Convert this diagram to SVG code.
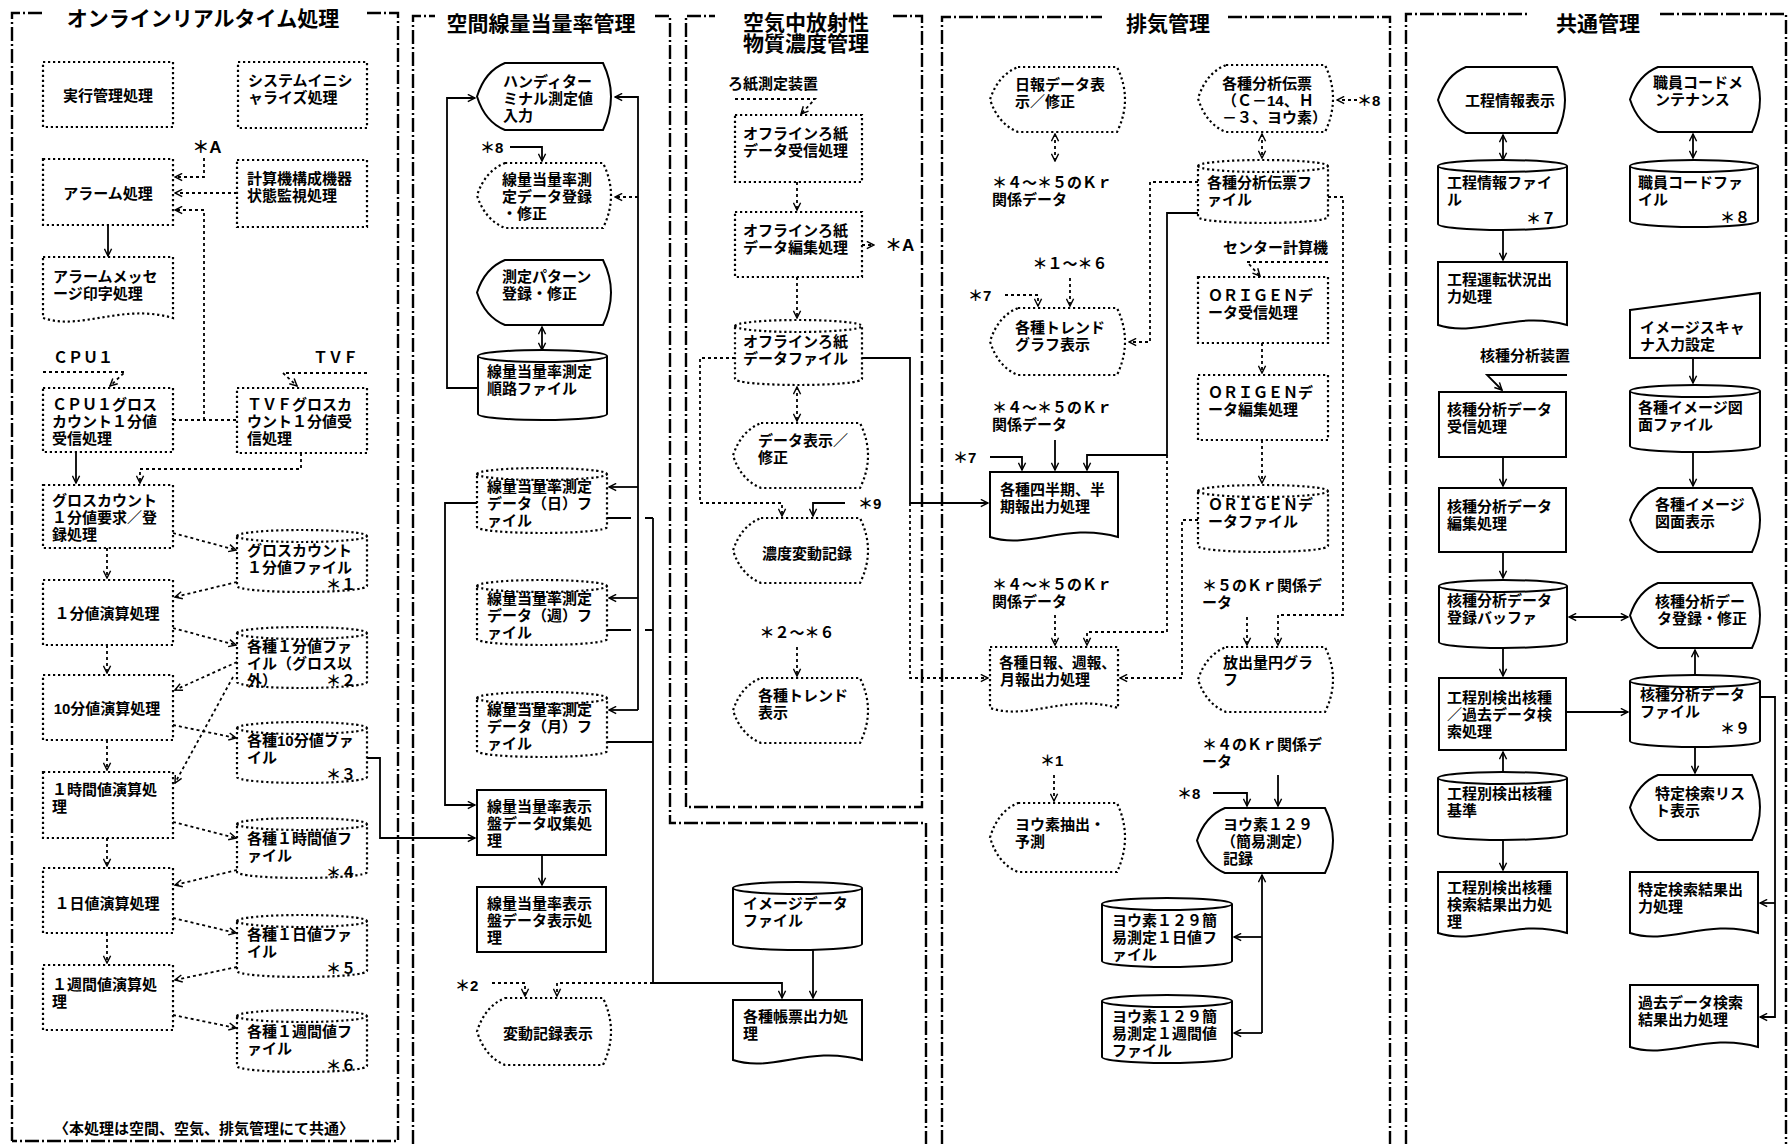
<svg xmlns="http://www.w3.org/2000/svg" width="1789" height="1144" viewBox="0 0 1789 1144">
<defs>
<style>
.t{font-family:"Liberation Sans","Noto Sans CJK JP",sans-serif;font-size:15px;font-weight:700;fill:#000}
.ttl{font-family:"Liberation Sans","Noto Sans CJK JP",sans-serif;font-size:21px;font-weight:700;fill:#000}
.m{text-anchor:middle}
.e{text-anchor:end}
.s{fill:#fff;stroke:#000;stroke-width:2}
.d{fill:#fff;stroke:#000;stroke-width:2.2;stroke-dasharray:2.2 2.8}
.f{fill:none;stroke:#000;stroke-width:2.4;stroke-dasharray:14 3 2 3}
.c{fill:none;stroke:#000;stroke-width:1.8}
.cd{fill:none;stroke:#000;stroke-width:1.8;stroke-dasharray:3 3}
.a{marker-end:url(#ah)}
.b{marker-start:url(#ah);marker-end:url(#ah)}
</style>
<marker id="ah" viewBox="0 0 10 10" refX="9" refY="5" markerWidth="9" markerHeight="9" markerUnits="userSpaceOnUse" orient="auto-start-reverse"><path d="M1,1 L9,5 L1,9" fill="none" stroke="#000" stroke-width="1.6"/></marker>
</defs>
<rect width="1789" height="1144" fill="#fff"/>

<g id="frames">
<path class="f" d="M12,1141 V13 H42 M367,13 H398 V1141 H12"/>
<path class="f" d="M413,1144 V16 H435 M655,16 H670 V823 H926 V1144"/>
<path class="f" d="M686,807 V16 H715 M893,16 H922 V807 H686"/>
<path class="f" d="M942,1144 V17 H1102 M1228,17 H1390 V1144"/>
<path class="f" d="M1406,1144 V14 H1528 M1660,14 H1786 V1144"/>
<text class="ttl m" x="203" y="25.5">オンラインリアルタイム処理</text>
<text class="ttl m" x="541" y="30.5">空間線量当量率管理</text>
<text class="ttl m" x="806" y="29.5">空気中放射性</text>
<text class="ttl m" x="806" y="50.5">物質濃度管理</text>
<text class="ttl m" x="1168" y="30.5">排気管理</text>
<text class="ttl m" x="1598" y="30.5">共通管理</text>
</g>

<g id="connectors">
<path class="cd a" d="M204,158 V177 H175"/>
<path class="cd a" d="M237,193 H175"/>
<path class="cd" d="M173,420 H237"/>
<path class="cd a" d="M204,420 V210 H175"/>
<path class="c a" d="M108,225 V256"/>
<path class="cd a" d="M43,372 H125 L110,386"/>
<path class="cd a" d="M367,373 H283 L297,386"/>
<path class="c a" d="M76,453 V483"/>
<path class="cd a" d="M301,453 V469 H140 V483"/>
<path class="cd a" d="M173,533 L236,550"/>
<path class="cd a" d="M237,582 L175,597"/>
<path class="cd a" d="M107,548 V578"/>
<path class="cd a" d="M173,628 L236,645"/>
<path class="cd a" d="M237,662 L175,690"/>
<path class="cd a" d="M233,677 L175,783"/>
<path class="cd a" d="M107,645 V673"/>
<path class="cd a" d="M173,725 L236,738"/>
<path class="c a" d="M367,758 H380 V838 H475"/>
<path class="cd a" d="M107,740 V770"/>
<path class="cd a" d="M173,822 L236,838"/>
<path class="cd a" d="M237,870 L175,885"/>
<path class="cd a" d="M107,838 V866"/>
<path class="cd a" d="M173,918 L236,933"/>
<path class="cd a" d="M237,967 L175,980"/>
<path class="cd a" d="M107,933 V963"/>
<path class="cd a" d="M173,1015 L236,1028"/>
<path class="c a" d="M478,388 H447 V98 H475"/>
<path class="c a" d="M638,710 V97 H615"/>
<path class="c a" d="M638,487 H609"/>
<path class="c a" d="M638,598 H609"/>
<path class="c a" d="M638,710 H609"/>
<path class="cd a" d="M638,197 H615"/>
<path class="c a" d="M510,147 H542 V161"/>
<path class="c b" d="M542,327 V350"/>
<path class="c" d="M607,518 H631 M645,518 H653 M607,630 H631 M645,630 H653 M607,742 H653"/>
<path class="c a" d="M653,518 V983 H782 V998"/>
<path class="c a" d="M477,503 H445 V805 H475"/>
<path class="c a" d="M542,855 V885"/>
<path class="cd a" d="M492,983 H525 V996"/>
<path class="cd a" d="M653,983 H557 V996"/>
<path class="c a" d="M813,950 V998"/>
<path class="cd a" d="M735,99 H815 L801,114"/>
<path class="cd a" d="M797,182 V210"/>
<path class="cd a" d="M862,245 H874"/>
<path class="cd a" d="M797,277 V318"/>
<path class="c a" d="M862,358 H910 V503 H988"/>
<path class="cd a" d="M910,503 V678 H988"/>
<path class="cd a" d="M735,358 H700 V503 H782 V516"/>
<path class="c a" d="M845,503 H813 V516"/>
<path class="cd b" d="M797,387 V421"/>
<path class="cd a" d="M797,647 V676"/>
<path class="cd b" d="M1055,134 V161"/>
<path class="cd b" d="M1262,134 V158"/>
<path class="cd a" d="M1357,100 H1337"/>
<path class="cd a" d="M1198,182 H1150 V342 H1129"/>
<path class="c a" d="M1198,213 H1167 V455 H1087 V470"/>
<path class="cd a" d="M1167,455 V632 H1087 V645"/>
<path class="cd a" d="M1328,197 H1343 V615 H1278 V645"/>
<path class="cd a" d="M1328,262 H1247 L1260,276"/>
<path class="cd a" d="M1262,343 V373"/>
<path class="cd a" d="M1262,440 V483"/>
<path class="cd a" d="M1198,520 H1182 V678 H1120"/>
<path class="cd a" d="M1070,278 V306"/>
<path class="cd a" d="M1005,295 H1038 V306"/>
<path class="c a" d="M1055,440 V470"/>
<path class="c a" d="M990,457 H1022 V470"/>
<path class="cd a" d="M1055,615 V645"/>
<path class="cd a" d="M1247,617 V645"/>
<path class="c a" d="M1278,775 V806"/>
<path class="c a" d="M1213,793 H1247 V806"/>
<path class="cd a" d="M1054,775 V801"/>
<path class="c" d="M1262,875 V1033" style="marker-start:url(#ah)"/>
<path class="c a" d="M1262,937 H1234"/>
<path class="c a" d="M1262,1033 H1234"/>
<path class="c b" d="M1503,135 V160"/>
<path class="c a" d="M1503,230 V260"/>
<path class="c b" d="M1693,134 V158"/>
<path class="c a" d="M1693,358 V383"/>
<path class="c a" d="M1693,452 V486"/>
<path class="c a" d="M1567,375 H1487 L1502,390"/>
<path class="c a" d="M1503,457 V486"/>
<path class="c a" d="M1503,552 V578"/>
<path class="c b" d="M1569,617 H1628"/>
<path class="c a" d="M1503,648 V676"/>
<path class="c a" d="M1566,712 H1628"/>
<path class="c a" d="M1695,675 V650"/>
<path class="c a" d="M1760,697 H1775 V1017 H1760"/>
<path class="c a" d="M1775,903 H1760"/>
<path class="c a" d="M1695,747 V773"/>
<path class="c a" d="M1503,772 V752"/>
<path class="c a" d="M1503,840 V870"/>
</g>

<g id="jikkou"><rect class="d" x="43" y="62" width="130" height="65"/><text class="t m" x="108" y="100.5">実行管理処理</text></g>
<g id="system-init"><rect class="d" x="238" y="62" width="129" height="66"/><text class="t" x="248" y="85.5">システムイニシ</text><text class="t" x="248" y="102.5">ャライズ処理</text></g>
<g id="label-A1"><text class="t m" x="207" y="153" style="font-size:17px">＊A</text></g>
<g id="alarm"><rect class="d" x="43" y="159" width="130" height="66"/><text class="t m" x="108" y="198.5">アラーム処理</text></g>
<g id="keisanki"><rect class="d" x="237" y="160" width="130" height="67"/><text class="t" x="247" y="183.5">計算機構成機器</text><text class="t" x="247" y="200.5">状態監視処理</text></g>
<g id="alarm-msg"><path class="d" d="M43,257 H173 V318 C121,303 82,331 43,318 Z"/><text class="t" x="53" y="281.5">アラームメッセ</text><text class="t" x="53" y="298.5">ージ印字処理</text></g>
<g id="label-cpu1"><text class="t" x="53" y="362.5">ＣＰＵ１</text></g>
<g id="label-tvf"><text class="t" x="313" y="362.5">ＴＶＦ</text></g>
<g id="cpu1-recv"><rect class="d" x="43" y="388" width="130" height="64"/><text class="t" x="52" y="409.5">ＣＰＵ１グロス</text><text class="t" x="52" y="426.5">カウント１分値</text><text class="t" x="52" y="443.5">受信処理</text></g>
<g id="tvf-recv"><rect class="d" x="237" y="388" width="130" height="65"/><text class="t" x="247" y="409.5">ＴＶＦグロスカ</text><text class="t" x="247" y="426.5">ウント１分値受</text><text class="t" x="247" y="443.5">信処理</text></g>
<g id="gross-req"><rect class="d" x="43" y="485" width="130" height="63"/><text class="t" x="52" y="505.5">グロスカウント</text><text class="t" x="52" y="522.5">１分値要求／登</text><text class="t" x="52" y="539.5">録処理</text></g>
<g id="file1"><path class="d" d="M237,536 A65,6 0 0 1 367,536 V586 A65,6 0 0 1 237,586 Z M237,536 A65,6 0 0 0 367,536"/><text class="t" x="247" y="555.5">グロスカウント</text><text class="t" x="247" y="572.5">１分値ファイル</text><text class="t e" x="356" y="589.5">＊１</text></g>
<g id="calc1m"><rect class="d" x="43" y="580" width="130" height="65"/><text class="t m" x="107" y="618.5">１分値演算処理</text></g>
<g id="file2"><path class="d" d="M237,633 A65,6 0 0 1 367,633 V682 A65,6 0 0 1 237,682 Z M237,633 A65,6 0 0 0 367,633"/><text class="t" x="247" y="651.5">各種１分値ファ</text><text class="t" x="247" y="668.5">イル（グロス以</text><text class="t" x="247" y="685.5">外）</text><text class="t e" x="356" y="685.5">＊２</text></g>
<g id="calc10m"><rect class="d" x="43" y="675" width="130" height="65"/><text class="t m" x="107" y="713.5">10分値演算処理</text></g>
<g id="file3"><path class="d" d="M237,728 A65,6 0 0 1 367,728 V777 A65,6 0 0 1 237,777 Z M237,728 A65,6 0 0 0 367,728"/><text class="t" x="247" y="745.5">各種10分値ファ</text><text class="t" x="247" y="762.5">イル</text><text class="t e" x="356" y="779.5">＊３</text></g>
<g id="calc1h"><rect class="d" x="43" y="772" width="130" height="66"/><text class="t" x="52" y="794.5">１時間値演算処</text><text class="t" x="52" y="811.5">理</text></g>
<g id="file4"><path class="d" d="M237,824 A65,6 0 0 1 367,824 V872 A65,6 0 0 1 237,872 Z M237,824 A65,6 0 0 0 367,824"/><text class="t" x="247" y="843.5">各種１時間値フ</text><text class="t" x="247" y="860.5">ァイル</text><text class="t e" x="356" y="877.5">＊４</text></g>
<g id="calc1d"><rect class="d" x="43" y="868" width="130" height="65"/><text class="t m" x="107" y="908.5">１日値演算処理</text></g>
<g id="file5"><path class="d" d="M237,921 A65,6 0 0 1 367,921 V971 A65,6 0 0 1 237,971 Z M237,921 A65,6 0 0 0 367,921"/><text class="t" x="247" y="939.5">各種１日値ファ</text><text class="t" x="247" y="956.5">イル</text><text class="t e" x="356" y="973.5">＊５</text></g>
<g id="calc1w"><rect class="d" x="43" y="965" width="130" height="65"/><text class="t" x="52" y="989.5">１週間値演算処</text><text class="t" x="52" y="1006.5">理</text></g>
<g id="file6"><path class="d" d="M237,1016 A65,6 0 0 1 367,1016 V1066 A65,6 0 0 1 237,1066 Z M237,1016 A65,6 0 0 0 367,1016"/><text class="t" x="247" y="1036.5">各種１週間値フ</text><text class="t" x="247" y="1053.5">ァイル</text><text class="t e" x="356" y="1070.5">＊６</text></g>
<g id="footer"><text class="t m" x="204" y="1133.5">〈本処理は空間、空気、排気管理にて共通〉</text></g>

<g id="handy"><path class="s" d="M505,63 H603 Q619,96.5 603,130 H505 Q485,122 477,96.5 Q485,71 505,63 Z"/><text class="t" x="503" y="86.5">ハンディター</text><text class="t" x="503" y="103.5">ミナル測定値</text><text class="t" x="503" y="120.5">入力</text></g>
<g id="label-8a"><text class="t" x="480" y="152.5">＊8</text></g>
<g id="sen-touroku"><path class="d" d="M505,163 H603 Q619,195.5 603,228 H505 Q485,220 477,195.5 Q485,171 505,163 Z"/><text class="t" x="502" y="184.5">線量当量率測</text><text class="t" x="502" y="201.5">定データ登録</text><text class="t" x="502" y="218.5">・修正</text></g>
<g id="pattern"><path class="s" d="M505,260 H603 Q619,292.5 603,325 H505 Q485,317 477,292.5 Q485,268 505,260 Z"/><text class="t" x="502" y="281.5">測定パターン</text><text class="t" x="502" y="298.5">登録・修正</text></g>
<g id="junro"><path class="s" d="M478,356 A64.5,6 0 0 1 607,356 V414 A64.5,6 0 0 1 478,414 Z M478,356 A64.5,6 0 0 0 607,356"/><text class="t" x="487" y="376.5">線量当量率測定</text><text class="t" x="487" y="393.5">順路ファイル</text></g>
<g id="file-day"><path class="d" d="M477,474 A65,6 0 0 1 607,474 V527 A65,6 0 0 1 477,527 Z M477,474 A65,6 0 0 0 607,474"/><text class="t" x="487" y="491.5">線量当量率測定</text><text class="t" x="487" y="508.5">データ（日）フ</text><text class="t" x="487" y="525.5">ァイル</text></g>
<g id="file-week"><path class="d" d="M477,586 A65,6 0 0 1 607,586 V639 A65,6 0 0 1 477,639 Z M477,586 A65,6 0 0 0 607,586"/><text class="t" x="487" y="603.5">線量当量率測定</text><text class="t" x="487" y="620.5">データ（週）フ</text><text class="t" x="487" y="637.5">ァイル</text></g>
<g id="file-month"><path class="d" d="M477,698 A65,6 0 0 1 607,698 V751 A65,6 0 0 1 477,751 Z M477,698 A65,6 0 0 0 607,698"/><text class="t" x="487" y="714.5">線量当量率測定</text><text class="t" x="487" y="731.5">データ（月）フ</text><text class="t" x="487" y="748.5">ァイル</text></g>
<g id="shuushuu"><rect class="s" x="477" y="790" width="129" height="65"/><text class="t" x="487" y="811.5">線量当量率表示</text><text class="t" x="487" y="828.5">盤データ収集処</text><text class="t" x="487" y="845.5">理</text></g>
<g id="hyouji"><rect class="s" x="477" y="887" width="129" height="65"/><text class="t" x="487" y="908.5">線量当量率表示</text><text class="t" x="487" y="925.5">盤データ表示処</text><text class="t" x="487" y="942.5">理</text></g>
<g id="label-2"><text class="t" x="455" y="990.5">＊2</text></g>
<g id="hendou"><path class="d" d="M505,998 H603 Q619,1031.5 603,1065 H505 Q485,1057 477,1031.5 Q485,1006 505,998 Z"/><text class="t m" x="548" y="1038.5">変動記録表示</text></g>

<g id="label-roshi"><text class="t" x="728" y="88.5">ろ紙測定装置</text></g>
<g id="roshi-recv"><rect class="d" x="735" y="115" width="127" height="67"/><text class="t" x="743" y="138.5">オフラインろ紙</text><text class="t" x="743" y="155.5">データ受信処理</text></g>
<g id="roshi-edit"><rect class="d" x="735" y="212" width="127" height="65"/><text class="t" x="743" y="235.5">オフラインろ紙</text><text class="t" x="743" y="252.5">データ編集処理</text></g>
<g id="label-A2"><text class="t" x="885" y="250.5" style="font-size:17px">＊A</text></g>
<g id="roshi-file"><path class="d" d="M735,326 A63.5,6 0 0 1 862,326 V379 A63.5,6 0 0 1 735,379 Z M735,326 A63.5,6 0 0 0 862,326"/><text class="t" x="743" y="346.5">オフラインろ紙</text><text class="t" x="743" y="363.5">データファイル</text></g>
<g id="data-disp"><path class="d" d="M761,423 H860 Q876,455.5 860,488 H761 Q741,480 733,455.5 Q741,431 761,423 Z"/><text class="t" x="758" y="445.5">データ表示／</text><text class="t" x="758" y="462.5">修正</text></g>
<g id="label-9"><text class="t" x="858" y="508.5">＊9</text></g>
<g id="noudo"><path class="d" d="M761,518 H860 Q876,550.5 860,583 H761 Q741,575 733,550.5 Q741,526 761,518 Z"/><text class="t m" x="807" y="558.5">濃度変動記録</text></g>
<g id="label-2-6"><text class="t m" x="797" y="637.5">＊２〜＊６</text></g>
<g id="trend"><path class="d" d="M761,678 H860 Q876,710.5 860,743 H761 Q741,735 733,710.5 Q741,686 761,678 Z"/><text class="t" x="758" y="700.5">各種トレンド</text><text class="t" x="758" y="717.5">表示</text></g>
<g id="image-file"><path class="s" d="M733,888 A64.5,6 0 0 1 862,888 V944 A64.5,6 0 0 1 733,944 Z M733,888 A64.5,6 0 0 0 862,888"/><text class="t" x="743" y="908.5">イメージデータ</text><text class="t" x="743" y="925.5">ファイル</text></g>
<g id="chouhyou"><path class="s" d="M733,1000 H862 V1060 C810,1045 772,1073 733,1060 Z"/><text class="t" x="743" y="1021.5">各種帳票出力処</text><text class="t" x="743" y="1038.5">理</text></g>

<g id="nippou-disp"><path class="d" d="M1018,67 H1117 Q1133,99.5 1117,132 H1018 Q998,124 990,99.5 Q998,75 1018,67 Z"/><text class="t" x="1015" y="89.5">日報データ表</text><text class="t" x="1015" y="106.5">示／修正</text></g>
<g id="label-kr1"><text class="t" x="992" y="187.5">＊４〜＊５のＫｒ</text><text class="t" x="992" y="204.5">関係データ</text></g>
<g id="bunseki-denpyo"><path class="d" d="M1226,65 H1325 Q1341,98.5 1325,132 H1226 Q1206,124 1198,98.5 Q1206,73 1226,65 Z"/><text class="t" x="1222" y="88.5">各種分析伝票</text><text class="t" x="1222" y="105.5">（Ｃ－14、Ｈ</text><text class="t" x="1222" y="122.5">－３、ヨウ素）</text></g>
<g id="label-8b"><text class="t" x="1357" y="105.5">＊8</text></g>
<g id="denpyo-file"><path class="d" d="M1198,166 A65,6 0 0 1 1328,166 V217 A65,6 0 0 1 1198,217 Z M1198,166 A65,6 0 0 0 1328,166"/><text class="t" x="1207" y="187.5">各種分析伝票フ</text><text class="t" x="1207" y="204.5">ァイル</text></g>
<g id="label-center"><text class="t" x="1223" y="252.5">センター計算機</text></g>
<g id="origen-recv"><rect class="d" x="1198" y="277" width="130" height="66"/><text class="t" x="1208" y="300.5">ＯＲＩＧＥＮデ</text><text class="t" x="1208" y="317.5">ータ受信処理</text></g>
<g id="origen-edit"><rect class="d" x="1198" y="375" width="130" height="65"/><text class="t" x="1208" y="397.5">ＯＲＩＧＥＮデ</text><text class="t" x="1208" y="414.5">ータ編集処理</text></g>
<g id="origen-file"><path class="d" d="M1198,491 A65,6 0 0 1 1328,491 V546 A65,6 0 0 1 1198,546 Z M1198,491 A65,6 0 0 0 1328,491"/><text class="t" x="1208" y="509.5">ＯＲＩＧＥＮデ</text><text class="t" x="1208" y="526.5">ータファイル</text></g>
<g id="label-1-6"><text class="t m" x="1070" y="268.5">＊１〜＊６</text></g>
<g id="label-7a"><text class="t" x="968" y="300.5">＊7</text></g>
<g id="trend-graph"><path class="d" d="M1018,308 H1117 Q1133,341.5 1117,375 H1018 Q998,367 990,341.5 Q998,316 1018,308 Z"/><text class="t" x="1015" y="332.5">各種トレンド</text><text class="t" x="1015" y="349.5">グラフ表示</text></g>
<g id="label-kr2"><text class="t" x="992" y="412.5">＊４〜＊５のＫｒ</text><text class="t" x="992" y="429.5">関係データ</text></g>
<g id="label-7b"><text class="t" x="953" y="462.5">＊7</text></g>
<g id="shihanki"><path class="s" d="M990,472 H1118 V537 C1067,522 1028,550 990,537 Z"/><text class="t" x="1000" y="494.5">各種四半期、半</text><text class="t" x="1000" y="511.5">期報出力処理</text></g>
<g id="label-kr3"><text class="t" x="992" y="589.5">＊４〜＊５のＫｒ</text><text class="t" x="992" y="606.5">関係データ</text></g>
<g id="nippou-out"><path class="d" d="M990,647 H1118 V708 C1067,693 1028,721 990,708 Z"/><text class="t" x="999" y="667.5" textLength="117" lengthAdjust="spacingAndGlyphs">各種日報、週報、</text><text class="t" x="1000" y="684.5">月報出力処理</text></g>
<g id="label-kr5"><text class="t" x="1202" y="590.5">＊５のＫｒ関係デ</text><text class="t" x="1202" y="607.5">ータ</text></g>
<g id="houshutsu"><path class="d" d="M1226,647 H1325 Q1341,679.5 1325,712 H1226 Q1206,704 1198,679.5 Q1206,655 1226,647 Z"/><text class="t" x="1223" y="667.5">放出量円グラ</text><text class="t" x="1223" y="684.5">フ</text></g>
<g id="label-kr4"><text class="t" x="1202" y="749.5">＊４のＫｒ関係デ</text><text class="t" x="1202" y="766.5">ータ</text></g>
<g id="label-8c"><text class="t" x="1177" y="798.5">＊8</text></g>
<g id="iodine-rec"><path class="s" d="M1225,808 H1325 Q1341,840.5 1325,873 H1225 Q1205,865 1197,840.5 Q1205,816 1225,808 Z"/><text class="t" x="1223" y="829.5">ヨウ素１２９</text><text class="t" x="1221" y="846.5">（簡易測定）</text><text class="t" x="1223" y="863.5">記録</text></g>
<g id="label-1"><text class="t" x="1040" y="765.5">＊1</text></g>
<g id="iodine-pred"><path class="d" d="M1018,803 H1117 Q1133,837.5 1117,872 H1018 Q998,864 990,837.5 Q998,811 1018,803 Z"/><text class="t" x="1015" y="829.5">ヨウ素抽出・</text><text class="t" x="1015" y="846.5">予測</text></g>
<g id="iodine-day"><path class="s" d="M1102,904 A65,6 0 0 1 1232,904 V961 A65,6 0 0 1 1102,961 Z M1102,904 A65,6 0 0 0 1232,904"/><text class="t" x="1112" y="925.5">ヨウ素１２９簡</text><text class="t" x="1112" y="942.5">易測定１日値フ</text><text class="t" x="1112" y="959.5">ァイル</text></g>
<g id="iodine-week"><path class="s" d="M1102,1001 A65,6 0 0 1 1232,1001 V1057 A65,6 0 0 1 1102,1057 Z M1102,1001 A65,6 0 0 0 1232,1001"/><text class="t" x="1112" y="1021.5">ヨウ素１２９簡</text><text class="t" x="1112" y="1038.5">易測定１週間値</text><text class="t" x="1112" y="1055.5">ファイル</text></g>

<g id="koutei-disp"><path class="s" d="M1466,67 H1557 Q1573,100 1557,133 H1466 Q1446,125 1438,100 Q1446,75 1466,67 Z"/><text class="t m" x="1510" y="105.5">工程情報表示</text></g>
<g id="koutei-file"><path class="s" d="M1438,166 A64.5,6 0 0 1 1567,166 V224 A64.5,6 0 0 1 1438,224 Z M1438,166 A64.5,6 0 0 0 1567,166"/><text class="t" x="1447" y="187.5">工程情報ファイ</text><text class="t" x="1447" y="204.5">ル</text><text class="t e" x="1556" y="223.5">＊７</text></g>
<g id="unten-out"><path class="s" d="M1438,262 H1567 V325 C1515,310 1477,338 1438,325 Z"/><text class="t" x="1447" y="284.5">工程運転状況出</text><text class="t" x="1447" y="301.5">力処理</text></g>
<g id="shokuin-maint"><path class="s" d="M1658,67 H1752 Q1768,99.5 1752,132 H1658 Q1638,124 1630,99.5 Q1638,75 1658,67 Z"/><text class="t" x="1653" y="87.5">職員コードメ</text><text class="t" x="1655" y="104.5">ンテナンス</text></g>
<g id="shokuin-file"><path class="s" d="M1630,166 A64,6 0 0 1 1758,166 V221 A64,6 0 0 1 1630,221 Z M1630,166 A64,6 0 0 0 1758,166"/><text class="t" x="1638" y="187.5">職員コードファ</text><text class="t" x="1638" y="204.5">イル</text><text class="t e" x="1750" y="222.5">＊８</text></g>
<g id="scanner"><path class="s" d="M1630,310 L1760,293 V358 H1630 Z"/><text class="t" x="1640" y="332.5">イメージスキャ</text><text class="t" x="1640" y="349.5">ナ入力設定</text></g>
<g id="zumen-file"><path class="s" d="M1630,391 A65,6 0 0 1 1760,391 V446 A65,6 0 0 1 1630,446 Z M1630,391 A65,6 0 0 0 1760,391"/><text class="t" x="1638" y="412.5">各種イメージ図</text><text class="t" x="1638" y="429.5">面ファイル</text></g>
<g id="zumen-disp"><path class="s" d="M1658,488 H1752 Q1768,520 1752,552 H1658 Q1638,544 1630,520 Q1638,496 1658,488 Z"/><text class="t" x="1655" y="509.5">各種イメージ</text><text class="t" x="1655" y="526.5">図面表示</text></g>
<g id="label-kakushu"><text class="t" x="1480" y="360.5">核種分析装置</text></g>
<g id="kakushu-recv"><rect class="s" x="1439" y="392" width="127" height="65"/><text class="t" x="1447" y="414.5">核種分析データ</text><text class="t" x="1447" y="431.5">受信処理</text></g>
<g id="kakushu-edit"><rect class="s" x="1439" y="488" width="127" height="64"/><text class="t" x="1447" y="511.5">核種分析データ</text><text class="t" x="1447" y="528.5">編集処理</text></g>
<g id="buffer"><path class="s" d="M1439,586 A64,6 0 0 1 1567,586 V642 A64,6 0 0 1 1439,642 Z M1439,586 A64,6 0 0 0 1567,586"/><text class="t" x="1447" y="605.5">核種分析データ</text><text class="t" x="1447" y="622.5">登録バッファ</text></g>
<g id="kakushu-mod"><path class="s" d="M1658,583 H1752 Q1768,615.5 1752,648 H1658 Q1638,640 1630,615.5 Q1638,591 1658,583 Z"/><text class="t" x="1655" y="606.5">核種分析デー</text><text class="t" x="1657" y="623.5">タ登録・修正</text></g>
<g id="search"><rect class="s" x="1439" y="678" width="127" height="72"/><text class="t" x="1447" y="702.5">工程別検出核種</text><text class="t" x="1447" y="719.5">／過去データ検</text><text class="t" x="1447" y="736.5">索処理</text></g>
<g id="kakushu-file"><path class="s" d="M1630,681 A65,6 0 0 1 1760,681 V741 A65,6 0 0 1 1630,741 Z M1630,681 A65,6 0 0 0 1760,681"/><text class="t" x="1640" y="699.5">核種分析データ</text><text class="t" x="1640" y="716.5">ファイル</text><text class="t e" x="1750" y="733.5">＊９</text></g>
<g id="kijun"><path class="s" d="M1438,778 A64.5,6 0 0 1 1567,778 V834 A64.5,6 0 0 1 1438,834 Z M1438,778 A64.5,6 0 0 0 1567,778"/><text class="t" x="1447" y="798.5">工程別検出核種</text><text class="t" x="1447" y="815.5">基準</text></g>
<g id="kensaku-out"><path class="s" d="M1438,872 H1567 V933 C1515,918 1477,946 1438,933 Z"/><text class="t" x="1447" y="892.5">工程別検出核種</text><text class="t" x="1447" y="909.5">検索結果出力処</text><text class="t" x="1447" y="926.5">理</text></g>
<g id="tokutei-list"><path class="s" d="M1658,775 H1752 Q1768,807.5 1752,840 H1658 Q1638,832 1630,807.5 Q1638,783 1658,775 Z"/><text class="t" x="1655" y="798.5">特定検索リス</text><text class="t" x="1655" y="815.5">ト表示</text></g>
<g id="tokutei-out"><path class="s" d="M1630,872 H1758 V933 C1707,918 1668,946 1630,933 Z"/><text class="t" x="1638" y="894.5">特定検索結果出</text><text class="t" x="1638" y="911.5">力処理</text></g>
<g id="kako-out"><path class="s" d="M1630,985 H1758 V1047 C1707,1032 1668,1060 1630,1047 Z"/><text class="t" x="1638" y="1007.5">過去データ検索</text><text class="t" x="1638" y="1024.5">結果出力処理</text></g>
</svg>
